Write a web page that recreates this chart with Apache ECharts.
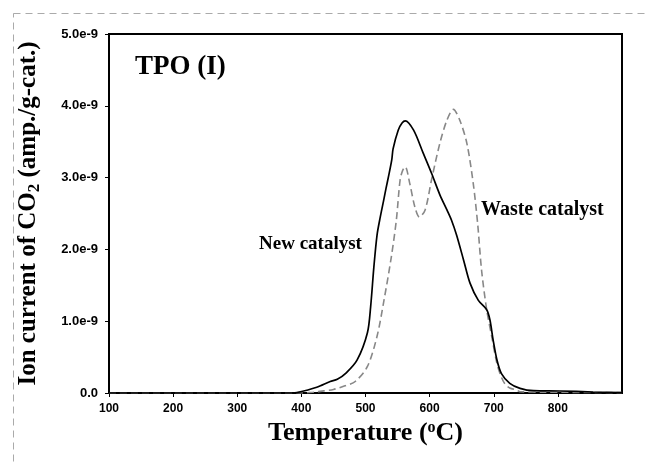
<!DOCTYPE html>
<html>
<head>
<meta charset="utf-8">
<script src="https://cdn.jsdelivr.net/npm/echarts@6/dist/echarts.min.js"></script>
<style>
  html, body { margin: 0; padding: 0; background: #fff; }
  #main { width: 648px; height: 466px; }
</style>
</head>
<body>
<div id="main"></div>
<script>
// temperature (oC) and ion current (x 1e-9 amp./g-cat.)
var newTemp = [100, 200, 300, 385, 393, 424, 445, 456, 470, 487, 503, 508, 513, 518, 523, 528, 532, 536, 541, 543, 551, 557, 562, 575, 590, 603, 616, 627, 634, 642, 653, 663, 676, 689, 694, 699, 705, 712, 725, 741, 762, 803, 855, 900];
var newVal  = [0, 0, 0, 0, 0.005, 0.08, 0.16, 0.19, 0.28, 0.46, 0.84, 1.2, 1.75, 2.2, 2.45, 2.67, 2.85, 3.02, 3.25, 3.4, 3.66, 3.76, 3.79, 3.66, 3.34, 3.06, 2.76, 2.55, 2.41, 2.2, 1.85, 1.53, 1.29, 1.16, 1.02, 0.74, 0.46, 0.27, 0.135, 0.065, 0.032, 0.028, 0.014, 0.005];

var wasteTemp = [100, 200, 300, 400, 418, 435, 450, 468, 484, 503, 518, 529, 540, 548, 554, 558, 562, 569, 577, 584, 593, 603, 616, 627, 637, 647, 658, 668, 675, 681, 689, 697, 705, 712, 718, 725, 736, 741, 780, 900];
var wasteVal  = [0, 0, 0, 0, 0.01, 0.03, 0.05, 0.1, 0.16, 0.37, 0.79, 1.3, 1.88, 2.4, 2.97, 3.1, 3.15, 2.92, 2.59, 2.45, 2.55, 2.97, 3.48, 3.8, 3.95, 3.8, 3.48, 2.92, 2.35, 1.71, 1.16, 0.78, 0.41, 0.22, 0.12, 0.07, 0.04, 0.018, 0.012, 0.005];

var xTicks = { min: 100, max: 900, interval: 100 };
var yTicks = { min: 0, max: 5, interval: 1 };

function pairs(xs, ys) {
  return xs.map(function (x, i) { return [x, ys[i]]; });
}

var chart = echarts.init(document.getElementById('main'));
var serif = '"Liberation Serif", "Times New Roman", serif';
var sans = '"Liberation Sans", Arial, sans-serif';

chart.setOption({
  animation: false,
  grid: {
    left: 109, right: 26, top: 34, bottom: 73,
    show: true, borderColor: '#000', borderWidth: 2
  },
  xAxis: {
    type: 'value',
    min: xTicks.min, max: xTicks.max, interval: xTicks.interval,
    splitLine: { show: false },
    axisLine: { onZero: false, lineStyle: { color: '#000', width: 2 } },
    axisTick: { inside: false, length: 4, lineStyle: { color: '#000', width: 1 } },
    axisLabel: {
      showMaxLabel: false, color: '#000', fontFamily: sans, fontWeight: 'bold',
      fontSize: 12, margin: 10
    },
    name: 'Temperature ({sup|o}C)',
    nameLocation: 'middle', nameGap: 27,
    nameTextStyle: {
      fontFamily: serif, fontWeight: 'bold', fontSize: 26, color: '#000',
      rich: { sup: { fontFamily: serif, fontWeight: 'bold', fontSize: 16, color: '#000', padding: [0, 0, 11, 0] } }
    }
  },
  yAxis: {
    type: 'value',
    min: yTicks.min, max: yTicks.max, interval: yTicks.interval,
    splitLine: { show: false },
    axisLine: { lineStyle: { color: '#000', width: 2 } },
    axisTick: { inside: false, length: 4, lineStyle: { color: '#000', width: 1 } },
    axisLabel: {
      color: '#000', fontFamily: sans, fontWeight: 'bold', fontSize: 13, margin: 11,
      formatter: function (v) { return v === 0 ? '0.0' : v.toFixed(1) + 'e-9'; }
    },
    name: 'Ion current of CO{sub|2} (amp./g-cat.)',
    nameLocation: 'middle', nameGap: 66, nameRotate: 90,
    nameTextStyle: {
      fontFamily: serif, fontWeight: 'bold', fontSize: 25, color: '#000',
      rich: { sub: { fontFamily: serif, fontWeight: 'bold', fontSize: 17, color: '#000', padding: [11, 0, 0, 0] } }
    }
  },
  graphic: [
    { type: 'rect', left: 11, top: 11, silent: true,
      shape: { width: 700, height: 520 },
      style: { fill: 'none', stroke: '#aaa', lineWidth: 1, lineDash: [7, 5] } },
    { type: 'text', left: 135, top: 54,
      style: { text: 'TPO (I)', font: 'bold 27px ' + serif, fill: '#000' } },
    { type: 'text', left: 259, top: 235,
      style: { text: 'New catalyst', font: 'bold 19px ' + serif, fill: '#000' } },
    { type: 'text', left: 481, top: 200,
      style: { text: 'Waste catalyst', font: 'bold 20px ' + serif, fill: '#000' } }
  ],
  series: [
    {
      name: 'Waste catalyst', type: 'line', data: pairs(wasteTemp, wasteVal),
      showSymbol: false, smooth: 0.3,
      lineStyle: { color: '#888', width: 1.6, type: [7, 4] }
    },
    {
      name: 'New catalyst', type: 'line', data: pairs(newTemp, newVal),
      showSymbol: false, smooth: 0.3,
      lineStyle: { color: '#000', width: 1.7 }
    }
  ]
});
</script>
</body>
</html>
